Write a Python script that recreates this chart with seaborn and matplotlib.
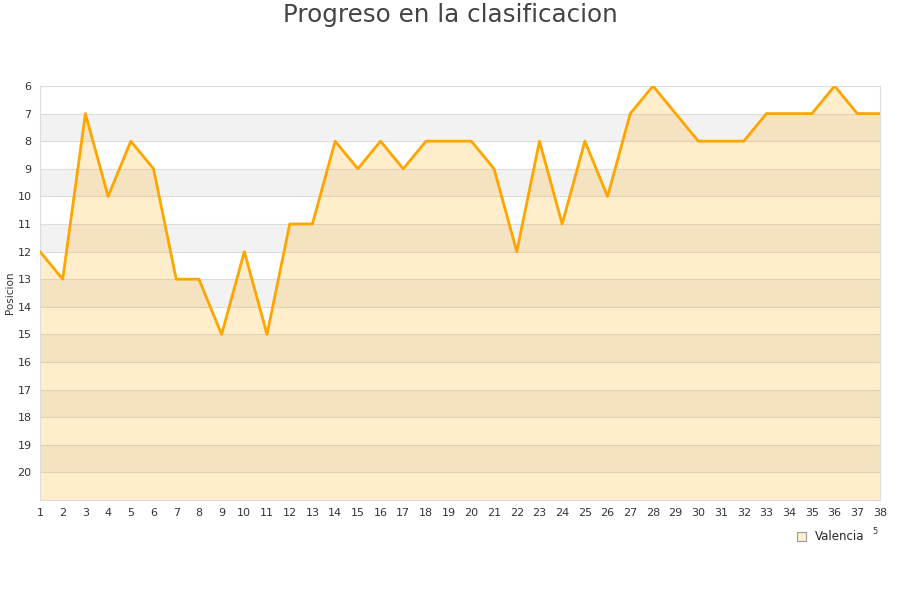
import matplotlib
matplotlib.use("Agg")
import matplotlib.pyplot as plt
import seaborn as sns
import pandas as pd
from matplotlib.patches import Patch

jornadas = list(range(1, 39))
posicion = [12, 13, 7, 10, 8, 9, 13, 13, 15, 12, 15, 11, 11, 8, 9, 8, 9, 8, 8, 8,
            9, 12, 8, 11, 8, 10, 7, 6, 7, 8, 8, 8, 7, 7, 7, 6, 7, 7]
y_ticks = list(range(6, 21))
equipo = "Valencia"
titulo = "Progreso en la clasificacion"

df = pd.DataFrame({"Jornada": jornadas, "Posicion": posicion})

sns.set_theme(style="white")
plt.rcParams['font.family'] = ['DejaVu Sans']

fig = plt.figure(figsize=(9, 6), dpi=100)
ax = fig.add_axes([40/900, 1-500/600, 840/900, 414/600])

# alternating background bands
for k in range(6, 21):
    if (k - 6) % 2 == 1:
        ax.axhspan(k, k + 1, color="#f2f2f2", zorder=0, lw=0)
for k in range(6, 22):
    ax.axhline(k, color="#dddddd", lw=0.8, zorder=1)

ax.fill_between(df["Jornada"], df["Posicion"], 21, color="#FFA500", alpha=0.2, lw=0, zorder=2)
sns.lineplot(data=df, x="Jornada", y="Posicion", ax=ax, color="#FFA500", lw=2.0, zorder=3,
             legend=False)

ax.set_xlim(1, 38)
ax.set_ylim(21, 6)
ax.set_xticks(jornadas)
ax.set_yticks(y_ticks)
ax.tick_params(axis="both", labelsize=8, colors="#333333", length=0, pad=6)
ax.set_xlabel("")
ax.set_ylabel("")
for s in ax.spines.values():
    s.set_color("#dddddd")
    s.set_linewidth(0.8)
ax.grid(False)

fig.text(10/900, 1-293/600, "Posicion", rotation=90, fontsize=7.5, color="#333333",
         ha="center", va="center")
fig.text(0.5, 1-15/600, titulo, ha="center", va="center", fontsize=17.7, color="#444444")

handle = Patch(facecolor="#FFEDCC", edgecolor="#999999", lw=0.8)
fig.legend([handle], [equipo], loc="center", bbox_to_anchor=(831/900, 1-537/600),
           frameon=False, fontsize=8.5, handlelength=0.7, handleheight=0.7, handletextpad=0.8)
fig.text(875/900, 1-532/600, "5", fontsize=6, color="#333333", ha="center", va="center")

fig.savefig("out.png", dpi=100)
